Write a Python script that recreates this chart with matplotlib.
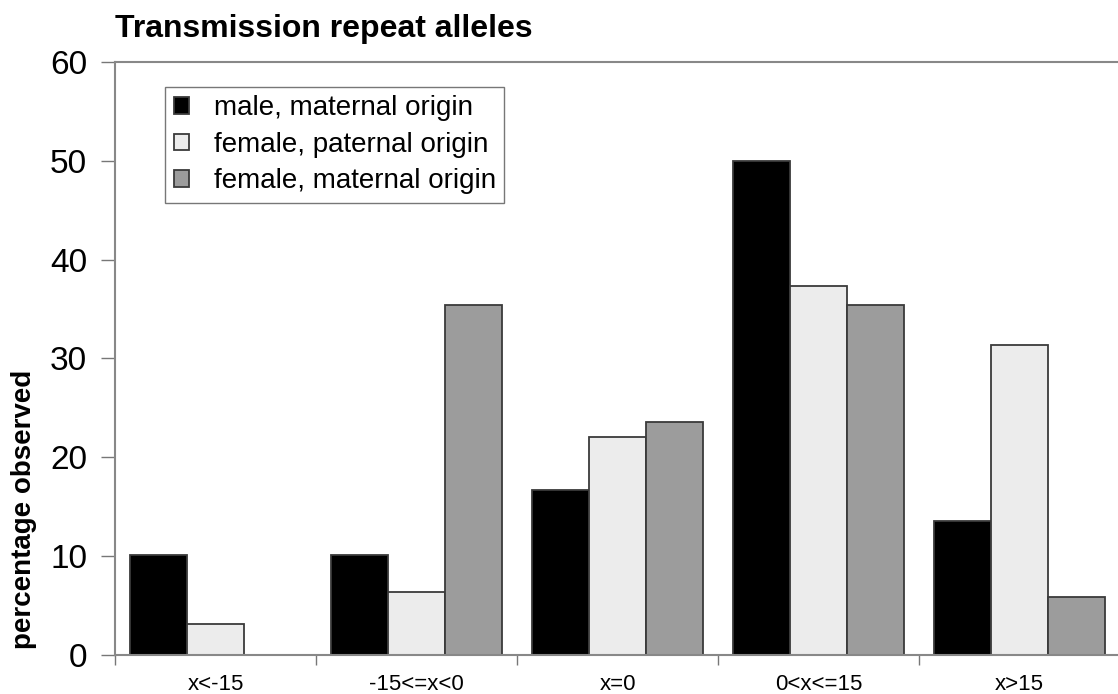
import numpy as np
import matplotlib.pyplot as plt
from matplotlib.ticker import FixedLocator

plt.rcParams['font.family'] = ['Liberation Sans', 'DejaVu Sans']

categories = ["x<-15", "-15<=x<0", "x=0", "0<x<=15", "x>15"]
male_maternal = [10.1, 10.1, 16.7, 50.0, 13.6]
female_paternal = [3.1, 6.4, 22.1, 37.3, 31.4]
female_maternal = [0.0, 35.4, 23.6, 35.4, 5.9]

series = [
    ("male, maternal origin", male_maternal, "#000000"),
    ("female, paternal origin", female_paternal, "#ececec"),
    ("female, maternal origin", female_maternal, "#9c9c9c"),
]

fig = plt.figure(figsize=(11.18, 6.94), dpi=100)
ax = fig.add_axes([0.1029, 0.0562, 0.8971, 0.8545])

x = np.arange(len(categories))
w = 0.284
for i, (label, vals, col) in enumerate(series):
    ax.bar(x + (i - 1) * w, vals, width=w, color=col,
           edgecolor="#3a3a3a", linewidth=1.3, label=label)

ax.set_xlim(-0.5, 4.49)
ax.set_ylim(0, 60)
ax.set_yticks(range(0, 61, 10))
ax.set_xticks(x)
ax.set_xticklabels(categories, fontsize=16)
ax.xaxis.set_minor_locator(FixedLocator(np.arange(-0.5, 4.6, 1.0)))
ax.tick_params(axis="x", which="major", length=0, pad=14)
ax.tick_params(axis="x", which="minor", length=7, width=1, color="#777777",
               direction="out")
ax.tick_params(axis="y", labelsize=24, length=10, width=1, color="#777777", pad=10)

for side in ["left", "bottom", "top"]:
    ax.spines[side].set_color("#888888")
    ax.spines[side].set_linewidth(1.5)
ax.spines["right"].set_visible(False)

ax.set_ylabel("percentage observed", fontsize=20, fontweight="bold")
ax.yaxis.set_label_coords(-0.078, 0.245)
fig.text(0.1029, 0.958, "Transmission repeat alleles", fontsize=23,
         fontweight="bold", ha="left", va="center")

leg = ax.legend(loc="upper left", bbox_to_anchor=(0.05, 0.958), fontsize=20,
                frameon=True, fancybox=False, edgecolor="#555555",
                handlelength=0.55, handleheight=0.55, handletextpad=0.9,
                borderpad=0.3, labelspacing=0.38, borderaxespad=0)
leg.get_frame().set_linewidth(1.0)

plt.savefig("out.png", dpi=100)
